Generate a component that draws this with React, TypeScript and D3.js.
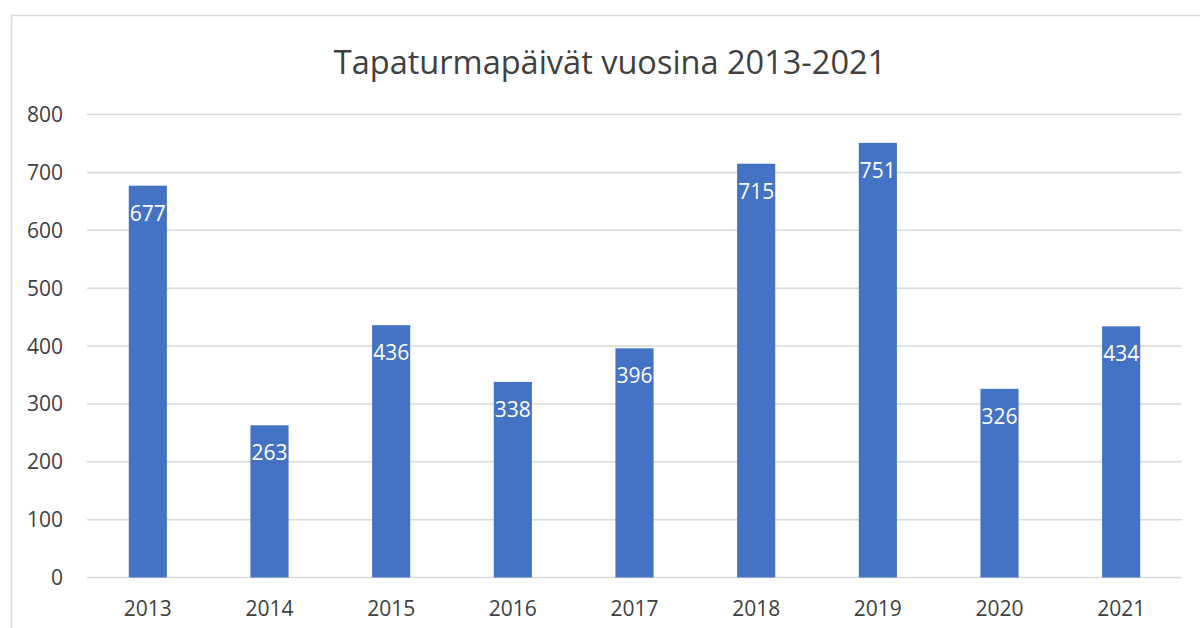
import React, { useEffect, useRef } from "react";
import * as d3 from "d3";

const years = ["2013", "2014", "2015", "2016", "2017", "2018", "2019", "2020", "2021"];
const values = [677, 263, 436, 338, 396, 715, 751, 326, 434];
const yTicks = [0, 100, 200, 300, 400, 500, 600, 700, 800];
const title = "Tapaturmapäivät vuosina 2013-2021";

export default function App() {
  const ref = useRef<SVGSVGElement>(null);
  useEffect(() => {
    const svg = d3.select(ref.current);
    svg.selectAll("*").remove();
    const W = 1200, H = 628;
    const left = 87, right = 1182, top = 114.5, bottom = 577.5;
    const font = "'Open Sans', sans-serif";
    const textColor = "#404040";

    svg.append("rect").attr("x", 0).attr("y", 0).attr("width", W).attr("height", H).attr("fill", "#fff");
    svg.append("rect").attr("x", 11.5).attr("y", 15.5).attr("width", 1300).attr("height", 800)
      .attr("fill", "none").attr("stroke", "#d9d9d9").attr("stroke-width", 1.5);

    const x = d3.scaleBand<string>().domain(years).range([left, right]).padding(0);
    const y = d3.scaleLinear().domain([0, 800]).range([bottom, top]);

    const g = svg.append("g");
    g.selectAll("line.grid").data(yTicks).join("line")
      .attr("x1", left).attr("x2", right)
      .attr("y1", d => y(d)).attr("y2", d => y(d))
      .attr("stroke", "#d9d9d9").attr("stroke-width", 1.5);

    g.selectAll("text.yt").data(yTicks).join("text")
      .attr("x", 63).attr("y", d => y(d)).attr("dy", "0.36em")
      .attr("text-anchor", "end").attr("font-family", font).attr("font-size", 21)
      .attr("fill", textColor).text(d => d);

    const bw = x.step() / 3.19;
    g.selectAll("rect.bar").data(values).join("rect")
      .attr("x", (d, i) => x(years[i])! + x.step() / 2 - bw / 2)
      .attr("y", d => y(d)).attr("width", bw).attr("height", d => bottom - y(d))
      .attr("fill", "#4472c4");

    g.selectAll("text.lbl").data(values).join("text")
      .attr("x", (d, i) => x(years[i])! + x.step() / 2)
      .attr("y", d => y(d) + 35)
      .attr("text-anchor", "middle").attr("font-family", font).attr("font-size", 21)
      .attr("fill", "#fff").text(d => d);

    g.selectAll("text.xt").data(years).join("text")
      .attr("x", d => x(d)! + x.step() / 2).attr("y", 616)
      .attr("text-anchor", "middle").attr("font-family", font).attr("font-size", 21)
      .attr("fill", textColor).text(d => d);

    svg.append("text").attr("x", 610).attr("y", 74).attr("text-anchor", "middle")
      .attr("font-family", font).attr("font-size", 32.5).attr("fill", textColor).text(title);
  }, []);
  return (
    <div style={{ position: "fixed", left: 0, top: 0 }}>
      <svg ref={ref} width={1200} height={628} style={{ display: "block" }} />
    </div>
  );
}
